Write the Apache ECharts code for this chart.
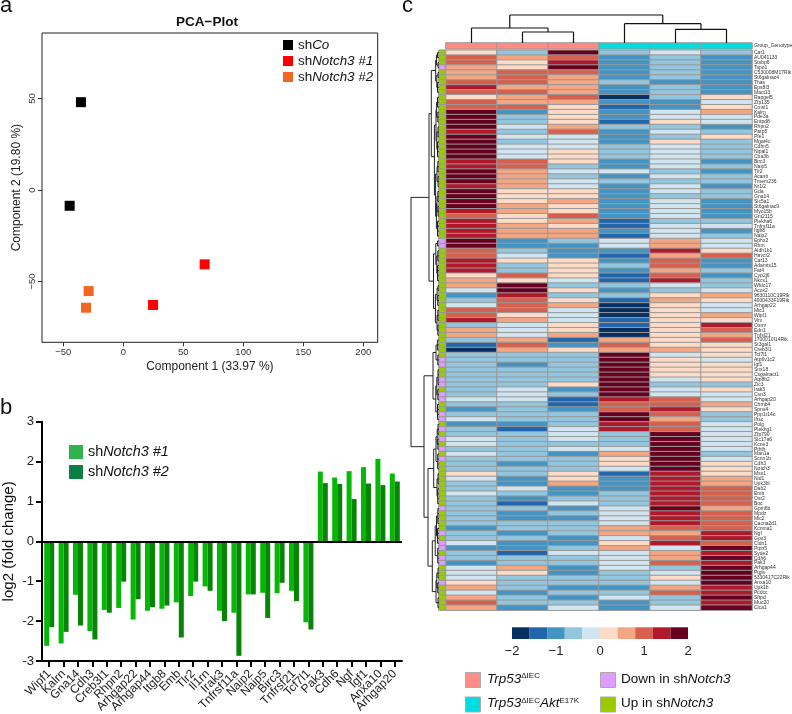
<!DOCTYPE html>
<html><head><meta charset="utf-8">
<style>html,body{margin:0;padding:0;background:#fff}#c{width:792px;height:714px}</style>
<script src="https://cdn.jsdelivr.net/npm/echarts@6/dist/echarts.min.js"></script>
</head><body><div id="c"></div>
<script>
const FONT = '"Liberation Sans", Arial, sans-serif';

// ---- a: PCA
const pcaCo = [[-35.3, 48], [-44.7, -8.6]];
const pcaN1 = [[67.8, -40.6], [24.8, -62.8]];
const pcaN2 = [[-28.9, -55.2], [-31.1, -64.3]];
const pcaXTicks = [-50, 0, 50, 100, 150, 200];
const pcaYTicks = [-50, 0, 50];

// ---- b: fold change
const fcGenes = ['Wipf1','Kalrn','Gna14','Cdh3','Creb3l1','Rhpn2','Arhgap22','Arhgap44','Itgb8','Emb','Tlr2','Il1rn','Irak3','Tnfrsf11a','Naip2','Naip5','Birc3','Tnfrsf21','Tcf7l1','Pak3','Cdh6','Ngf','Igf1','Anxa10','Arhgap20'];
const fcN1 = [-2.62,-2.56,-1.34,-2.25,-1.72,-1.67,-1.96,-1.74,-1.69,-1.53,-1.37,-1.13,-1.74,-1.79,-1.33,-1.29,-1.30,-1.24,-2.03,1.75,1.60,1.76,1.86,2.07,1.70];
const fcN2 = [-2.15,-2.27,-2.11,-2.46,-1.79,-1.01,-1.45,-1.65,-1.61,-2.41,-1.01,-1.24,-2.00,-2.87,-1.33,-1.92,-1.04,-1.50,-2.21,1.46,1.44,1.06,1.45,1.41,1.50];

// ---- c: heatmap
const heatGenes = ['Car1','AU041133','Stxbp6','Tspo1','C530008M17Rik','St6galnac4','Thas','Eps8l3','Mact13','Rapgef5','Zfp135','Cmsi1','Kalrn','Pde3a','Entpd8','Rhpn2','Parp5','Pfe1','Mgat4c','Cdhn5','Nipal1','Cba3b','Birc3','Naip5','Tlr2','Acanb','Tmem236','Nr1i2','Gda','Gna14','Slc5a1','St6galnac9','Myo15b','Gm2115','Plekha6','Tnfrsf11a','Itgb8','Naip2','Ephx2','Rbm','Aldh1b1','Havcr2','Car13','Adamts15','Fat4','Cyp2j6','Nkcs1','Wfdc17','Acox2','9630110C19Rik','4930433F19Rik','Arhgap22','Mic1','Wipf1','Vim','Osmr','Edn1','Tnfsf21','1700010I14Rik','St3gal1','Creb3l1','Tcf7l1','Atp6v1c2','Igf1','Snx18','Csgalnact1','Atp8b2','Zic3','Irak3','Csn3','Arhgap20','Chrnb4','Spns4','Ppp1r14c','Ihsc','Polg','Plekhg1','Zfp790','Slc17a6','Kcne3','Pthlh','Man1a','Scnn1b','Cdh3','Notch3','Msx1','Nid1','Upk3bl','Dab2','Emb','Osr2','Boc','Gpm6b','Mpdz','Mic2','Cacna2d1','Kcnma1','Ngf','Gpx3','Cldn1','Ptpn5','Syde2','Cdh6','Pak3','Arhgap44','Ptgis','5330417C22Rik','Anxa10','Upk1b','Pcdcc','Sftpd','Muc20','Clca1'];
const heatRows = [
[.2,-.6,1.8,-.6,-.2,-.6],[1,.6,1,-1,-.6,-1],[1,.2,1.4,-1,-.6,-1],[.6,.2,1.8,-1,-.6,-1],[.6,1,1,-1,-.6,-1],[.6,1,.6,-1,-.6,-1],[1,1,.6,-.6,-1,-1],[1.4,.6,.6,-1,-.6,-1],[1,1,.6,-1,-.6,-1],[.2,.6,1,-1.8,-.6,.2],
[1,.6,.6,-1,-1,-.2],[1,1,.2,-1.4,-1,.2],[1.8,-1,.2,-1,-.2,.6],[1.8,-.6,.2,-1,-.2,-.2],[1.8,-.6,.2,-1.4,.2,-.2],[1.8,-.2,.6,-.6,-.6,-1],[1.4,-.6,1,-1,-.2,-.6],[1.8,-.2,-.2,-1,-.6,.2],[1.8,-.6,-.2,-1,.2,-.6],[1.8,-.2,-.2,-.6,-.2,-.6],
[1.8,-.2,.2,-.6,-.2,-.6],[1.8,-.2,.2,-.6,-.2,-.6],[1.4,1,.2,-1,-.2,-1],[1.4,1,-.6,-1,-.2,-.6],[1.8,.6,-.2,-.2,-.6,-1],[1.8,.6,-.6,-1,-.2,-.6],[1.8,.6,-.2,-.6,-.6,-.6],[1.4,.6,-.2,-1,-.2,-1],[1.8,.2,.2,-1,-.2,-.6],[1.8,.2,.2,-1,-.6,-.6],
[1.8,.2,.6,-1,-.2,-1],[1.8,.6,.2,-1,-.2,-1],[1.4,.6,.2,-1,-.2,-1],[1,.2,1,-1,-.2,-1],[1.4,.2,.6,-1.4,-.6,-.6],[1.4,.6,.2,-1.4,-.2,-.2],[1.4,.6,.6,-1,-.2,-1],[1.4,.6,.6,-1.4,-.2,-.6],[1.8,-1,-.6,-.2,.6,-.2],[1.8,-1,-1,-.2,.6,-.2],
[1,-.6,-1,-1,1.4,.2],[1,-.2,-1,-1.4,.6,1],[1.4,.2,.2,-1,1,-1],[1.4,-.6,.2,-.6,1,-1],[1.4,-.6,.2,-1,.6,-.6],[.2,1,.2,-1.4,1,-1],[.6,.2,-.2,-1.4,1.4,-.6],[.6,1.8,-.6,-.6,-.2,-.6],[-.2,1.8,.2,-1,-.6,-.2],[-1,1.4,-.6,-.6,.2,.6],
[-.6,1,.2,-1.4,.6,.2],[-.2,1,.6,-1.8,.2,-.2],[1,1,-.2,-1.8,.2,-.2],[1,.2,-.2,-1.8,.2,.6],[1.4,.6,-.2,-1.4,.2,.2],[-.6,-.2,.2,-1.4,.2,1.4],[.6,-.2,.2,-1.8,.2,1],[.6,-.2,.6,-1.8,.2,.6],[-.6,.6,-1.4,.6,.2,1],[-1.4,1,-1,1,.2,.2],
[-1.8,.6,.2,.6,.6,.2],[-.6,-.6,-.6,1.8,-.2,.2],[-.6,-.6,-.6,1.8,.2,-.2],[-.6,-1,-.6,1.8,.2,.2],[-.6,-.6,-.6,1.8,.2,.2],[-.6,-.6,-.6,1.8,.2,.2],[-.6,-.6,-.6,1.8,-.2,.2],[-.6,-.6,.2,1.8,-.6,-.6],[-.6,-.2,-1,1.8,-.2,.2],[-.6,-.2,-.6,1.8,-.2,-.2],
[-.2,-.2,-1.4,1.4,1,-.2],[-.6,-.6,-1.4,1,1,.6],[-1,-.6,-1,1,1.4,.2],[-.6,-.6,-.6,1.8,1,-.6],[-.2,-.6,-.6,1.8,.6,-.6],[-1,-1,-.6,1.4,1,-.2],[-.6,-1.4,-.2,1.4,1,-.2],[-.6,-.6,-.2,-.6,1.8,-.2],[-.2,-.6,-.2,-.6,1.8,-.2],[-.2,-.6,-.6,-.6,1.8,-.2],
[-.6,-.6,-.2,-.2,1.8,-.2],[-.2,-.6,-1,.6,1.8,-.6],[-.6,-.6,-.6,.2,1.8,-.2],[-.6,-1,-.6,.2,1.8,.2],[-.6,-.6,-.6,-.2,1.8,.2],[.2,-.6,.2,-1.4,1.4,.2],[-.2,-1,.2,-1,1.4,.6],[-.6,-1,.6,-1,1.4,.6],[-.6,-.2,-1,-1,1.4,1],[-.2,-.6,-1,-.6,1.4,1],
[-.6,-1,-.6,-.6,1.4,1],[-.6,-1.4,-.2,-.6,1.4,1],[-.6,-.6,-1,-.2,1.8,.6],[-.6,-1,-.6,-.2,1.4,1],[-.6,-1,-1,-.2,1.4,1],[-.6,-.6,-.6,-.2,1.4,1],[-1,-.6,-.6,.6,1,1],[-.6,-1,-.6,.6,.6,1.4],[-.6,-.6,-1,-.2,1,1.4],[-.2,-1,-1,.2,1.4,1],
[-1,-1,-.6,.6,-.2,1.8],[-.6,-1.4,-.2,-.2,.6,1.4],[-.6,-.6,-.6,-.2,.6,1.8],[-1,-.6,-.6,-.2,1,1.4],[-.2,.6,-1,-.2,-.6,1.8],[-.2,.2,-1,-.6,-.2,1.8],[-.2,-.6,-.6,-.6,.2,1.8],[.2,-.6,-.6,-.6,-.2,1.8],[.6,-.6,-1,-1,.6,1.4],[-.2,-1,-.6,-.6,1,1.4],
[.6,-.6,-1,-.2,-.6,1.8],[1,-.6,-.6,-1,-.6,1.4],[.6,-1,-.2,-1,-.2,1.8]
];
const sampleGroups = [0, 0, 0, 1, 1, 1];
const downRows = [4,39,40,63,64,67,68,70,71,74,75,77,79,81,83,93,98,100,101,103,104,108];

const heatPalette = ['#053061','#2166ac','#4393c3','#92c5de','#d1e5f0','#fddbc7','#f4a582','#d6604d','#b2182b','#67001f'];
const colorBreaks = [-2,-1.6,-1.2,-0.8,-0.4,0,0.4,0.8,1.2,1.6,2];

// dendrogram brackets: [height, pos A, child height A, pos B, child height B]
const topTree = [[28,1.25,15,4.25,19.3],[15,.5,0,2,11],[11,1.5,0,2.5,0],[19.3,3.5,0,5,13.7],[13.7,4.5,0,5.5,0]];
const leftLeafGroups = [[1,2,1.5],[3,4,1],[5,6,1],[7,9,1.5],[10,12,1.5],[13,15,1.2],[16,18,1],[19,22,1.5],[23,25,1.2],[26,28,1],[29,31,1.2],[32,34,1],[35,38,1.5],[39,40,1.5],[41,43,1.2],[44,47,1.5],[48,49,1],[50,52,1.3],[53,55,1.2],[56,58,1.2],[59,61,1.6],[62,64,1.2],[65,68,1],[69,71,1.2],[72,75,1.5],[76,78,1],[79,81,1.2],[82,85,1.3],[86,88,1],[89,92,1.3],[93,96,1.2],[97,100,1.5],[101,104,1.3],[105,107,1],[108,110,1.3],[111,113,1]];
const leftTree = [[2.5,1.5,1.5,3.5,1],[2.2,5.5,1,8,1.5],[3.3,2.5,2.5,6.75,2.2],[2.4,11,1.5,14,1.2],[2.2,17,1,20.5,1.5],[3,12.5,2.4,18.75,2.2],[2,24,1.2,27,1],[2,30,1.2,33,1],[2.6,31.5,2,36.5,1.5],[3.4,25.5,2,34,2.6],[4.6,15.6,3,29.75,3.4],[7.7,4.6,3.3,22,4.6],
[2.2,42,1.2,45.5,1.5],[3.2,39.5,1.5,43.75,2.2],[1.9,48.5,1,51,1.3],[2,54,1.2,57,1.2],[3.6,49.75,1.9,55.5,2],[5.5,41.6,3.2,52.6,3.6],[10,13.3,7.7,47.1,5.5],
[3,60,1.6,63,1.2],[2.2,66.5,1,70,1.2],[3.2,68.25,2.2,73.5,1.5],[6,61.5,3,70.9,3.2],
[1.8,77,1,80,1.2],[3,78.5,1.8,83.5,1.3],[2,87,1,90.5,1.3],[5.3,81,3,88.75,2],[2.5,94.5,1.2,98.5,1.5],[3.8,96.5,2.5,102.5,1.3],[2.2,106,1,109,1.3],[3,107.5,2.2,112,1],[6.7,99.5,3.8,109.75,3],[11,84.9,5.3,104.6,6.7],[15,66.2,6,94.75,11],[28,30.2,10,80.5,15]];

// ---- derived tables for the library
const heatData = [];
heatRows.forEach((r, i) => r.forEach((v, j) => heatData.push([j, i, v])));
const sampleData = sampleGroups.map((g, j) => [j, 0, g]);
const rowKindData = heatGenes.map((g, i) => [0, i, downRows.includes(i + 1) ? 1 : 0]);
const bracketSegs = (brackets, vertical) => {
  const s = [];
  brackets.forEach(([h, a, ha, b, hb]) => {
    if (vertical) { s.push([a, h, b, h], [a, h, a, ha], [b, h, b, hb]); }
    else { s.push([h, a, h, b], [h, a, ha, a], [h, b, hb, b]); }
  });
  return s;
};
const topSegs = bracketSegs(topTree, true);
const leftSegs = bracketSegs(leftTree, false);
leftLeafGroups.forEach(([a, b, h]) => {
  leftSegs.push([h, a, h, b]);
  for (let r = a; r <= b; r++) leftSegs.push([h, r, 0, r]);
});
const colorBarData = heatPalette.map((c, i) => [colorBreaks[i], colorBreaks[i + 1], i]);

const lineRender = (color, width) => (params, api) => {
  const p1 = api.coord([api.value(0), api.value(1)]);
  const p2 = api.coord([api.value(2), api.value(3)]);
  return { type: 'line', shape: { x1: p1[0], y1: p1[1], x2: p2[0], y2: p2[1] }, style: { stroke: color, lineWidth: width } };
};
const minusFmt = v => String(v).replace('-', '\u2212');
const shFmt = n => 'sh{i|' + n.slice(2) + '}';
const italicRich = size => ({ i: { fontStyle: 'italic', fontSize: size, fontFamily: FONT, color: '#111' } });
const hiddenAxis = (gridIndex, extra) => Object.assign({ gridIndex, show: false }, extra);
const gridAt = o => Object.assign({ outerBoundsMode: 'none', containLabel: false }, o);

const GX = 446, GW = 306, GY = 50.2, GH = 560;
const chart = echarts.init(document.getElementById('c'), null, { renderer: 'canvas' });
chart.setOption({
  animation: false,
  textStyle: { fontFamily: FONT },
  title: { text: 'PCA\u2212Plot', left: 202, top: 10, textAlign: 'center', textStyle: { fontSize: 13.5, fontWeight: 'bold', color: '#111', fontFamily: FONT } },
  grid: [
    gridAt({ left: 42, top: 33, width: 335.7, height: 309.3, show: true, borderColor: '#222', borderWidth: 1, backgroundColor: '#fff' }),
    gridAt({ left: 42, top: 421.7, width: 360, height: 239.3 }),
    gridAt({ left: GX, top: GY, width: GW, height: GH }),
    gridAt({ left: GX, top: 43, width: GW, height: 5.8 }),
    gridAt({ left: 439, top: GY, width: 6, height: GH }),
    gridAt({ left: GX, top: 15, width: GW, height: 28 }),
    gridAt({ left: 405, top: GY, width: 34, height: GH }),
    gridAt({ left: 512, top: 627.3, width: 176, height: 11.7 })
  ],
  xAxis: [
    { type: 'value', gridIndex: 0, min: -67.75, max: 212, name: 'Component 1 (33.97 %)', nameLocation: 'middle', nameGap: 18, nameTextStyle: { fontSize: 12, color: '#222', fontFamily: FONT }, splitLine: { show: false }, axisLine: { show: false, onZero: false }, axisTick: { length: 4, lineStyle: { color: '#333' }, customValues: pcaXTicks }, axisLabel: { fontSize: 9.5, color: '#333', margin: 5, customValues: pcaXTicks, formatter: minusFmt } },
    { type: 'category', gridIndex: 1, data: fcGenes, axisLine: { onZero: false, lineStyle: { color: '#000', width: 2 } }, axisTick: { alignWithLabel: true, show: true, length: 6, lineStyle: { color: '#000', width: 2 } }, axisLabel: { rotate: 45, interval: 0, fontSize: 12, color: '#222', margin: 11 } },
    { type: 'category', gridIndex: 2, data: [0,1,2,3,4,5], show: false },
    { type: 'category', gridIndex: 3, data: [0,1,2,3,4,5], show: false },
    { type: 'category', gridIndex: 4, data: [0], show: false },
    hiddenAxis(5, { type: 'value', min: 0, max: 6 }),
    hiddenAxis(6, { type: 'value', min: 0, max: 34, inverse: true }),
    { type: 'value', gridIndex: 7, min: -2, max: 2, interval: 1, splitLine: { show: false }, axisLine: { show: false }, axisTick: { show: false }, axisLabel: { fontSize: 13, color: '#222', margin: 6, formatter: minusFmt } }
  ],
  yAxis: [
    { type: 'value', gridIndex: 0, min: -83.2, max: 85.8, name: 'Component 2 (19.80 %)', nameLocation: 'middle', nameGap: 19, nameTextStyle: { fontSize: 12, color: '#222', fontFamily: FONT }, splitLine: { show: false }, axisLine: { show: false, onZero: false }, axisTick: { length: 4, lineStyle: { color: '#333' }, customValues: pcaYTicks }, axisLabel: { fontSize: 9.5, color: '#333', rotate: 90, margin: 5, customValues: pcaYTicks, formatter: minusFmt } },
    { type: 'value', gridIndex: 1, min: -3, max: 3, interval: 1, name: 'log2 (fold change)', nameLocation: 'middle', nameGap: 26, nameTextStyle: { fontSize: 15, color: '#111', fontFamily: FONT }, splitLine: { show: false }, axisLine: { show: true, onZero: false, lineStyle: { color: '#000', width: 2 } }, axisTick: { show: true, length: 6, lineStyle: { color: '#000', width: 2 } }, axisLabel: { fontSize: 13, color: '#222', margin: 8 } },
    { type: 'category', gridIndex: 2, data: heatGenes, inverse: true, position: 'right', axisLine: { show: false }, axisTick: { show: false }, axisLabel: { interval: 0, fontSize: 5, color: '#333', margin: 2 } },
    { type: 'category', gridIndex: 3, data: ['Group_Genotype'], position: 'right', axisLine: { show: false }, axisTick: { show: false }, axisLabel: { fontSize: 5, color: '#333', margin: 2 } },
    { type: 'category', gridIndex: 4, data: heatGenes, inverse: true, show: false },
    hiddenAxis(5, { type: 'value', min: 0, max: 28 }),
    hiddenAxis(6, { type: 'value', min: 0.5, max: 113.5, inverse: true }),
    hiddenAxis(7, { type: 'value', min: 0, max: 1 })
  ],
  legend: [
    { left: 283, top: 38.5, padding: 0, orient: 'vertical', itemWidth: 10, itemHeight: 10, itemGap: 3, icon: 'rect', selectedMode: false, data: ['shCo', 'shNotch3 #1', 'shNotch3 #2'], formatter: shFmt, textStyle: { fontSize: 13.4, color: '#111', fontFamily: FONT, rich: italicRich(13.4) } },
    { left: 69, top: 445, padding: 0, orient: 'vertical', itemWidth: 14, itemHeight: 14, itemGap: 6, icon: 'rect', selectedMode: false, data: [{ name: 'Bars #1', itemStyle: { color: '#2fb34b' } }, { name: 'Bars #2', itemStyle: { color: '#0b7f42' } }], formatter: n => 'sh{i|Notch3 #' + n.slice(-1) + '}', textStyle: { fontSize: 14.4, color: '#111', fontFamily: FONT, rich: italicRich(14.4) } }
  ],
  visualMap: [
    { type: 'piecewise', show: false, seriesIndex: 5, dimension: 2, pieces: heatPalette.map((c, i) => ({ gte: colorBreaks[i], lt: i === 9 ? 3 : colorBreaks[i + 1], color: c })) },
    { type: 'piecewise', show: false, seriesIndex: 6, dimension: 2, pieces: [{ value: 0, color: '#ff8d85' }, { value: 1, color: '#00dde0' }] },
    { type: 'piecewise', show: false, seriesIndex: 7, dimension: 2, pieces: [{ value: 0, color: '#99cc00' }, { value: 1, color: '#e09cff' }] }
  ],
  series: [
    { name: 'shCo', type: 'scatter', xAxisIndex: 0, yAxisIndex: 0, data: pcaCo, symbol: 'rect', symbolSize: 10, itemStyle: { color: '#000', opacity: 1 } },
    { name: 'shNotch3 #1', type: 'scatter', xAxisIndex: 0, yAxisIndex: 0, data: pcaN1, symbol: 'rect', symbolSize: 10, itemStyle: { color: '#ff0000', opacity: 1 } },
    { name: 'shNotch3 #2', type: 'scatter', xAxisIndex: 0, yAxisIndex: 0, data: pcaN2, symbol: 'rect', symbolSize: 10, itemStyle: { color: '#f26522', opacity: 1 } },
    { name: 'Bars #1', type: 'bar', xAxisIndex: 1, yAxisIndex: 1, data: fcN1, barWidth: 5, barGap: 0, itemStyle: { color: '#06b806' },
      markLine: { silent: true, symbol: 'none', label: { show: false }, lineStyle: { color: '#000', width: 2, type: 'solid' }, data: [{ yAxis: 0 }] } },
    { name: 'Bars #2', type: 'bar', xAxisIndex: 1, yAxisIndex: 1, data: fcN2, barWidth: 5, barGap: 0, itemStyle: { color: '#068406' } },
    { type: 'heatmap', xAxisIndex: 2, yAxisIndex: 2, data: heatData, itemStyle: { borderColor: '#999', borderWidth: 1 }, progressive: 0 },
    { type: 'heatmap', xAxisIndex: 3, yAxisIndex: 3, data: sampleData, itemStyle: { borderColor: '#999', borderWidth: 1 }, progressive: 0 },
    { type: 'heatmap', xAxisIndex: 4, yAxisIndex: 4, data: rowKindData, itemStyle: { borderColor: '#999', borderWidth: 1 }, progressive: 0 },
    { type: 'custom', xAxisIndex: 5, yAxisIndex: 5, data: topSegs, renderItem: lineRender('#111', 1.2), clip: false, silent: true },
    { type: 'custom', xAxisIndex: 6, yAxisIndex: 6, data: leftSegs, renderItem: lineRender('#222', 1), clip: false, silent: true },
    { type: 'custom', xAxisIndex: 7, yAxisIndex: 7, data: colorBarData, clip: false, silent: true, encode: { x: [0, 1] },
      renderItem: (params, api) => {
        const a = api.coord([api.value(0), 1]), b = api.coord([api.value(1), 0]);
        return { type: 'rect', shape: { x: a[0], y: a[1], width: b[0] - a[0], height: b[1] - a[1] }, style: { fill: heatPalette[api.value(2)] } };
      } }
  ],
  graphic: [
    { type: 'text', left: 0, top: -5, style: { text: 'a', fontSize: 22, fontFamily: FONT, fill: '#111' } },
    { type: 'text', left: 0, top: 397, style: { text: 'b', fontSize: 22, fontFamily: FONT, fill: '#111' } },
    { type: 'text', left: 402, top: -5, style: { text: 'c', fontSize: 22, fontFamily: FONT, fill: '#111' } },
    { type: 'rect', left: 465, top: 672, shape: { width: 15, height: 15 }, style: { fill: '#ff8d85', stroke: '#aaa', lineWidth: 1 } },
    { type: 'rect', left: 465, top: 696.5, shape: { width: 15, height: 15 }, style: { fill: '#00dde0', stroke: '#aaa', lineWidth: 1 } },
    { type: 'rect', left: 600, top: 672, shape: { width: 15, height: 15 }, style: { fill: '#e09cff', stroke: '#aaa', lineWidth: 1 } },
    { type: 'rect', left: 600, top: 696.5, shape: { width: 15, height: 15 }, style: { fill: '#99cc00', stroke: '#aaa', lineWidth: 1 } },
    { type: 'text', left: 487, top: 672, style: { rich: { i: { fontStyle: 'italic', fontSize: 13.5, fontFamily: FONT, fill: '#111' }, s: { fontSize: 8, fontFamily: FONT, fill: '#111', verticalAlign: 'top', lineHeight: 13 } }, text: '{i|Trp53}{s|\u0394IEC}' } },
    { type: 'text', left: 487, top: 696.5, style: { rich: { i: { fontStyle: 'italic', fontSize: 13.5, fontFamily: FONT, fill: '#111' }, s: { fontSize: 8, fontFamily: FONT, fill: '#111', verticalAlign: 'top', lineHeight: 13 } }, text: '{i|Trp53}{s|\u0394IEC}{i|Akt}{s|E17K}' } },
    { type: 'text', left: 621, top: 672, style: { rich: { n: { fontSize: 13.5, fontFamily: FONT, fill: '#111' }, i: { fontStyle: 'italic', fontSize: 13.5, fontFamily: FONT, fill: '#111' } }, text: '{n|Down in sh}{i|Notch3}' } },
    { type: 'text', left: 621, top: 696.5, style: { rich: { n: { fontSize: 13.5, fontFamily: FONT, fill: '#111' }, i: { fontStyle: 'italic', fontSize: 13.5, fontFamily: FONT, fill: '#111' } }, text: '{n|Up in sh}{i|Notch3}' } }
  ]
});
</script></body></html>
